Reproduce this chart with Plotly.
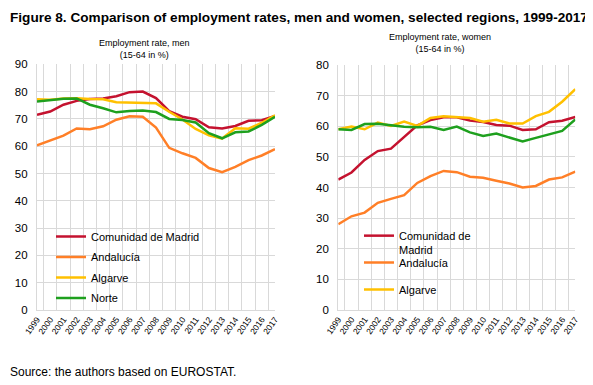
import plotly.graph_objects as go

years = [str(y) for y in range(1999, 2018)]

# Employment rate, men (15-64, %)
men_madrid = [71.5, 72.7, 75.2, 76.6, 77.3, 77.5, 78.3, 79.8, 80.0, 77.6, 72.8, 70.8, 69.9, 66.9, 66.5, 67.4, 69.3, 69.5, 71.1]
men_andalucia = [60.3, 62.1, 63.9, 66.5, 66.2, 67.3, 69.7, 71.0, 70.8, 66.8, 59.4, 57.4, 55.7, 52.0, 50.5, 52.4, 54.9, 56.6, 58.9]
men_algarve = [77.2, 77.0, 77.5, 77.6, 77.3, 77.2, 76.1, 76.0, 75.8, 75.7, 72.6, 69.8, 66.3, 64.0, 62.8, 66.6, 66.4, 68.6, 71.3]
men_norte = [76.4, 76.9, 77.4, 77.5, 75.2, 73.9, 72.4, 72.9, 73.1, 72.5, 70.0, 69.6, 68.7, 64.8, 62.9, 65.1, 65.4, 67.8, 70.8]

# Employment rate, women (15-64, %)
women_madrid = [42.6, 44.9, 49.0, 51.9, 52.7, 56.4, 60.3, 62.0, 62.9, 62.9, 61.9, 61.4, 60.4, 60.2, 58.8, 59.0, 61.3, 61.8, 63.0]
women_andalucia = [28.0, 30.6, 31.8, 35.0, 36.3, 37.5, 41.5, 43.7, 45.4, 45.0, 43.5, 43.2, 42.2, 41.3, 40.0, 40.5, 42.6, 43.3, 45.2]
women_algarve = [59.0, 59.9, 59.0, 61.2, 60.1, 61.5, 60.1, 62.7, 63.3, 62.9, 62.7, 61.5, 62.1, 60.9, 60.9, 63.3, 64.7, 68.0, 72.1]
women_norte = [59.0, 58.8, 60.7, 60.8, 60.3, 59.8, 59.7, 59.8, 58.8, 59.9, 58.0, 56.8, 57.6, 56.3, 55.0, 56.2, 57.4, 58.5, 62.2]

regions = ["Comunidad de Madrid", "Andalucía", "Algarve", "Norte"]
women_names = ["Comunidad de<br>Madrid", "Andalucía", "Algarve", "Norte"]
colors = ["#C4122F", "#FF7F27", "#FFC000", "#1EA01E"]

# The page body adds an 8px margin, so the figure is placed 8px right/down.
OFF = 8
W, H = 593 - OFF, 385 - OFF
FONT = "Liberation Sans, Arial, sans-serif"

def px(x):
    return (x - OFF) / W

def py(y):
    return 1 - (y - OFF) / H

fig = go.Figure()

men = [men_madrid, men_andalucia, men_algarve, men_norte]
women = [women_madrid, women_andalucia, women_algarve, women_norte]

for i, (name, col, vals) in enumerate(zip(regions, colors, men)):
    fig.add_trace(go.Scatter(
        x=years, y=vals, name=name, mode="lines",
        line=dict(color=col, width=2.5),
        xaxis="x", yaxis="y", legend="legend", legendgroup="m%d" % i,
        showlegend=True))

women_legend = ["legend2", "legend3", "legend4", None]
for i, (name, col, vals, lg) in enumerate(zip(women_names, colors, women, women_legend)):
    fig.add_trace(go.Scatter(
        x=years, y=vals, name=name, mode="lines",
        line=dict(color=col, width=2.5),
        xaxis="x2", yaxis="y2", legend=lg if lg else "legend2",
        legendgroup="w%d" % i,
        showlegend=lg is not None))

grid = "#D9D9D9"
xcommon = dict(type="category", tickson="boundaries", showgrid=True, gridcolor=grid,
               gridwidth=1.3, showline=True, linecolor=grid, linewidth=1.3,
               ticks="", tickangle=-55, tickfont=dict(size=8.5, color="#000", family=FONT),
               fixedrange=True, automargin=False)
ycommon = dict(showgrid=True, gridcolor=grid, gridwidth=1.3, showline=True, linecolor=grid,
               linewidth=1.3, ticks="", dtick=10, tickfont=dict(size=11.5, color="#000", family=FONT),
               ticklabelstandoff=6, zeroline=False, fixedrange=True, automargin=False)

lfont = dict(size=11, family=FONT, color="#000")

fig.update_layout(
    width=W, height=H,
    margin=dict(l=0, r=0, t=0, b=0),
    paper_bgcolor="white", plot_bgcolor="white",
    font=dict(family=FONT, color="#000"),
    xaxis=dict(domain=[px(37), px(275)], anchor="y", **xcommon),
    yaxis=dict(domain=[py(310), py(64.3)], range=[0, 90], anchor="x", **ycommon),
    xaxis2=dict(domain=[px(338.3), px(575.3)], anchor="y2", **xcommon),
    yaxis2=dict(domain=[py(310), py(65)], range=[0, 80], anchor="x2", **ycommon),
    legend=dict(x=px(51), y=py(222), xanchor="left", yanchor="top",
                bgcolor="rgba(0,0,0,0)", font=lfont,
                traceorder="grouped", tracegroupgap=1.5),
    legend2=dict(x=px(359), y=py(222), xanchor="left", yanchor="top", valign="top",
                 bgcolor="rgba(0,0,0,0)", font=lfont),
    legend3=dict(x=px(359), y=py(248), xanchor="left", yanchor="top",
                 bgcolor="rgba(0,0,0,0)", font=lfont),
    legend4=dict(x=px(359), y=py(275), xanchor="left", yanchor="top",
                 bgcolor="rgba(0,0,0,0)", font=lfont),
    shapes=[
        dict(type="rect", xref="paper", yref="paper", x0=px(38), x1=px(220), y0=py(309), y1=py(229),
             fillcolor="white", line=dict(width=0), layer="between"),
        dict(type="rect", xref="paper", yref="paper", x0=px(339), x1=px(487), y0=py(309), y1=py(229),
             fillcolor="white", line=dict(width=0), layer="between"),
    ],
    annotations=[
        dict(text="<b>Figure 8. Comparison of employment rates, men and women, selected regions, 1999-2017</b>",
             x=0, y=1, xref="paper", yref="paper", xanchor="left", yanchor="top",
             showarrow=False, font=dict(size=13.6, family=FONT, color="#000")),
        dict(text="Employment rate, men<br>(15-64 in %)",
             x=px(144), y=py(48.5), xref="paper", yref="paper", xanchor="center", yanchor="middle",
             showarrow=False, font=dict(size=9, family=FONT, color="#000")),
        dict(text="Employment rate, women<br>(15-64 in %)",
             x=px(440), y=py(42.5), xref="paper", yref="paper", xanchor="center", yanchor="middle",
             showarrow=False, font=dict(size=9, family=FONT, color="#000")),
        dict(text="Source: the authors based on EUROSTAT.",
             x=0, y=py(372), xref="paper", yref="paper", xanchor="left", yanchor="middle",
             showarrow=False, font=dict(size=12, family=FONT, color="#000")),
    ],
)

fig.write_html("out.html")
